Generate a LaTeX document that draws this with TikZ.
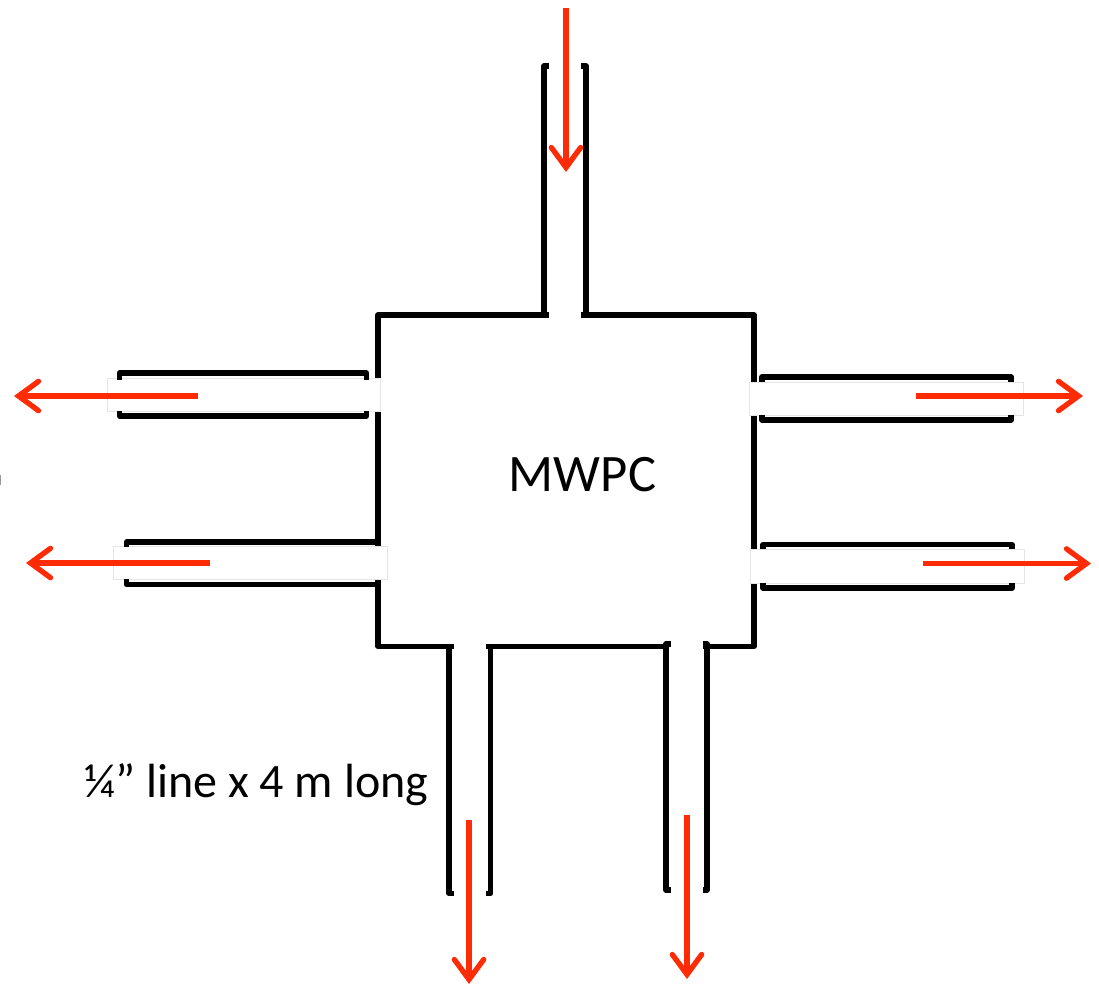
\documentclass[tikz,border=0pt]{standalone}
\usepackage{fontspec}
\setmainfont{Carlito}
\usetikzlibrary{arrows.meta}
\definecolor{flowred}{RGB}{255,43,5}
\tikzset{
  wall/.style={draw=black,line width=4pt,line join=round,line cap=butt},
  patch/.style={fill=white,draw=black!10,line width=0.4pt},
  flow/.style={draw=flowred,line width=4pt,-{Straight Barb[length=15pt,width=22pt,line cap=round,line join=miter]}},
  lbl/.style={inner sep=0pt,text=black,anchor=base}
}
\begin{document}
\begin{tikzpicture}[x=0.75pt,y=-0.75pt]
\useasboundingbox (0,0) rectangle (1099,986);
% chamber walls
\draw[wall] (549,315) -- (378,315) -- (378,646.5) -- (454,646.5);
\draw[wall] (486,646.5) -- (664,646.5);
\draw[wall] (703,646.5) -- (754,646.5) -- (754,315) -- (581,315);
\draw[draw=black!40,line width=0.75pt] (0.4,475) -- (0.4,485);
% white patches over the wall openings
\path[patch] (107,378) rectangle (380,411);
\path[patch] (113.5,546) rectangle (387,579);
\path[patch] (749,382) rectangle (1023,415);
\path[patch] (750.5,549) rectangle (1024.5,583);
% top tube
\draw[wall] (549,66) -- (544,66) -- (544,315);
\draw[wall] (581,66) -- (586,66) -- (586,315);
% left tubes
\draw[wall] (119.5,380) -- (119.5,373) -- (366.5,373) -- (366.5,380);
\draw[wall] (119.5,411) -- (119.5,416) -- (366.5,416) -- (366.5,411);
\draw[wall] (126.5,546.5) -- (126.5,542) -- (378,542);
\draw[wall] (126.5,579) -- (126.5,584.5) -- (378,584.5);
% right tubes
\draw[wall] (762,382) -- (762,377) -- (1011,377) -- (1011,382);
\draw[wall] (762,415) -- (762,420) -- (1011,420) -- (1011,415);
\draw[wall] (763,549) -- (763,544.5) -- (1012,544.5) -- (1012,549);
\draw[wall] (763,583) -- (763,588) -- (1012,588) -- (1012,583);
% bottom tubes
\draw[wall] (449,646.5) -- (449,893.5) -- (454,893.5);
\draw[wall] (490.5,646.5) -- (490.5,893.5) -- (486,893.5);
\draw[wall] (670.5,644) -- (666,644) -- (666,890) -- (670.5,890);
\draw[wall] (703,644) -- (707,644) -- (707,890) -- (703,890);
% labels
\node[lbl] (chamber) at (582.5,491) {\fontsize{39.5}{39.5}\selectfont MWPC};
\node[lbl] (note) at (256.5,797) {\fontsize{36}{36}\selectfont ¼” line x 4 m long};
% flow arrows
\coordinate (inA) at (566,8);   \coordinate (inB) at (566,172);
\coordinate (l1A) at (198,396); \coordinate (l1B) at (14,396);
\coordinate (l2A) at (210,563); \coordinate (l2B) at (26,563);
\coordinate (r1A) at (916,396); \coordinate (r1B) at (1083,396);
\coordinate (r2A) at (923,563.5); \coordinate (r2B) at (1091,563.5);
\coordinate (b1A) at (469,820); \coordinate (b1B) at (469,984);
\coordinate (b2A) at (687,815); \coordinate (b2B) at (687,979);
\draw[flow] (inA) -- (inB);
\draw[flow] (l1A) -- (l1B);
\draw[flow] (l2A) -- (l2B);
\draw[flow] (r1A) -- (r1B);
\draw[flow] (r2A) -- (r2B);
\draw[flow] (b1A) -- (b1B);
\draw[flow] (b2A) -- (b2B);
\end{tikzpicture}
\end{document}
